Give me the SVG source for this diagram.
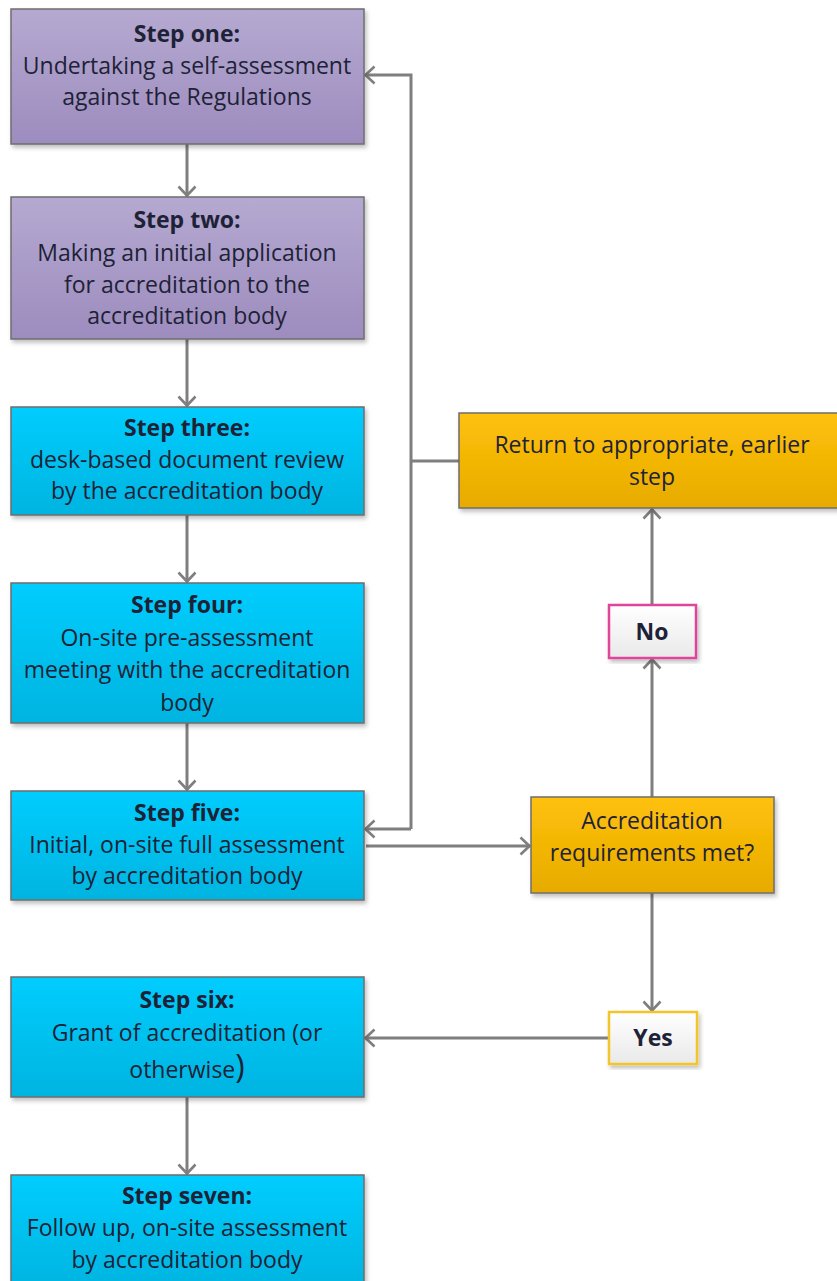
<svg xmlns="http://www.w3.org/2000/svg" width="837" height="1281" viewBox="0 0 837 1281">
<defs>
<linearGradient id="gPurple" x1="0" y1="0" x2="0" y2="1"><stop offset="0" stop-color="#b5a9d1"/><stop offset="1" stop-color="#9d8cbe"/></linearGradient>
<linearGradient id="gBlue" x1="0" y1="0" x2="0" y2="1"><stop offset="0" stop-color="#00cdfe"/><stop offset="1" stop-color="#00b4e0"/></linearGradient>
<linearGradient id="gOrange" x1="0" y1="0" x2="0" y2="1"><stop offset="0" stop-color="#ffc10a"/><stop offset="1" stop-color="#e7ab00"/></linearGradient>
<linearGradient id="gWhite" x1="0" y1="0" x2="0" y2="1"><stop offset="0" stop-color="#ffffff"/><stop offset="1" stop-color="#e9e9e9"/></linearGradient>
<filter id="sh" x="-5%" y="-5%" width="112%" height="115%"><feDropShadow dx="2" dy="3" stdDeviation="2" flood-color="#000" flood-opacity="0.25"/></filter>
<marker id="arr" viewBox="0 0 20 22" refX="18" refY="11" markerWidth="20" markerHeight="22" markerUnits="userSpaceOnUse" orient="auto">
<path d="M8.5,2.5 L17.5,11 L8.5,19.5" fill="none" stroke="#7f7f7f" stroke-width="2.6"/>
</marker>
</defs>
<style>
.box{stroke:#6e6e6e;stroke-width:1.5;filter:url(#sh)}
.t{font-family:"Open Sans","Liberation Sans",sans-serif;font-size:23px;fill:#1e2236;text-anchor:middle}
.b{font-weight:bold}
.c{fill:none;stroke:#7f7f7f;stroke-width:3}
</style>
<rect width="837" height="1281" fill="#ffffff"/>
<g id="connectors">
<path class="c" d="M187,144 V196" marker-end="url(#arr)"/>
<path class="c" d="M187,339 V406" marker-end="url(#arr)"/>
<path class="c" d="M187,515 V582" marker-end="url(#arr)"/>
<path class="c" d="M187,723 V790" marker-end="url(#arr)"/>
<path class="c" d="M187,1097 V1174" marker-end="url(#arr)"/>
<path class="c" d="M366,846 H530" marker-end="url(#arr)"/>
<path class="c" d="M652,797 V659" marker-end="url(#arr)"/>
<path class="c" d="M652,604 V509" marker-end="url(#arr)"/>
<path class="c" d="M652,893 V1011" marker-end="url(#arr)"/>
<path class="c" d="M609,1038 H365" marker-end="url(#arr)"/>
<path class="c" d="M459,461 H411"/>
<path class="c" d="M411,829 V75 H365" marker-end="url(#arr)"/>
<path class="c" d="M411,829 H365" marker-end="url(#arr)"/>
</g>
<g id="step1">
<rect class="box" x="11" y="9" width="353" height="135" fill="url(#gPurple)"/>
<text class="t b" x="187" y="42">Step one:</text>
<text class="t" x="187" y="74">Undertaking a self-assessment</text>
<text class="t" x="187" y="105">against the Regulations</text>
</g>
<g id="step2">
<rect class="box" x="11" y="197" width="353" height="142" fill="url(#gPurple)"/>
<text class="t b" x="187" y="228">Step two:</text>
<text class="t" x="187" y="261">Making an initial application</text>
<text class="t" x="187" y="293">for accreditation to the</text>
<text class="t" x="187" y="324">accreditation body</text>
</g>
<g id="step3">
<rect class="box" x="11" y="407" width="353" height="108" fill="url(#gBlue)"/>
<text class="t b" x="187" y="436">Step three:</text>
<text class="t" x="187" y="468">desk-based document review</text>
<text class="t" x="187" y="499">by the accreditation body</text>
</g>
<g id="step4">
<rect class="box" x="11" y="583" width="353" height="140" fill="url(#gBlue)"/>
<text class="t b" x="187" y="613">Step four:</text>
<text class="t" x="187" y="646">On-site pre-assessment</text>
<text class="t" x="187" y="678">meeting with the accreditation</text>
<text class="t" x="187" y="711">body</text>
</g>
<g id="step5">
<rect class="box" x="11" y="791" width="353" height="109" fill="url(#gBlue)"/>
<text class="t b" x="187" y="821">Step five:</text>
<text class="t" x="187" y="853">Initial, on-site full assessment</text>
<text class="t" x="187" y="884">by accreditation body</text>
</g>
<g id="step6">
<rect class="box" x="11" y="977" width="353" height="120" fill="url(#gBlue)"/>
<text class="t b" x="187" y="1008">Step six:</text>
<text class="t" x="187" y="1041">Grant of accreditation (or</text>
<text class="t" x="187" y="1078">otherwise<tspan font-size="32px">)</tspan></text>
</g>
<g id="step7">
<rect class="box" x="11" y="1175" width="353" height="115" fill="url(#gBlue)"/>
<text class="t b" x="187" y="1204">Step seven:</text>
<text class="t" x="187" y="1236">Follow up, on-site assessment</text>
<text class="t" x="187" y="1268">by accreditation body</text>
</g>
<g id="return">
<rect class="box" x="459" y="413" width="385" height="95" fill="url(#gOrange)"/>
<text class="t" x="652" y="453">Return to appropriate, earlier</text>
<text class="t" x="652" y="485">step</text>
</g>
<g id="decision">
<rect class="box" x="531" y="797" width="243" height="96" fill="url(#gOrange)"/>
<text class="t" x="652" y="829">Accreditation</text>
<text class="t" x="652" y="861">requirements met?</text>
</g>
<g id="no">
<rect x="609" y="605" width="87" height="53" fill="url(#gWhite)" stroke="#e0449c" stroke-width="2.5" filter="url(#sh)"/>
<text class="t b" x="652" y="640">No</text>
</g>
<g id="yes">
<rect x="609" y="1012" width="88" height="52" fill="url(#gWhite)" stroke="#f2c62a" stroke-width="2.5" filter="url(#sh)"/>
<text class="t b" x="653" y="1046">Yes</text>
</g>
</svg>
